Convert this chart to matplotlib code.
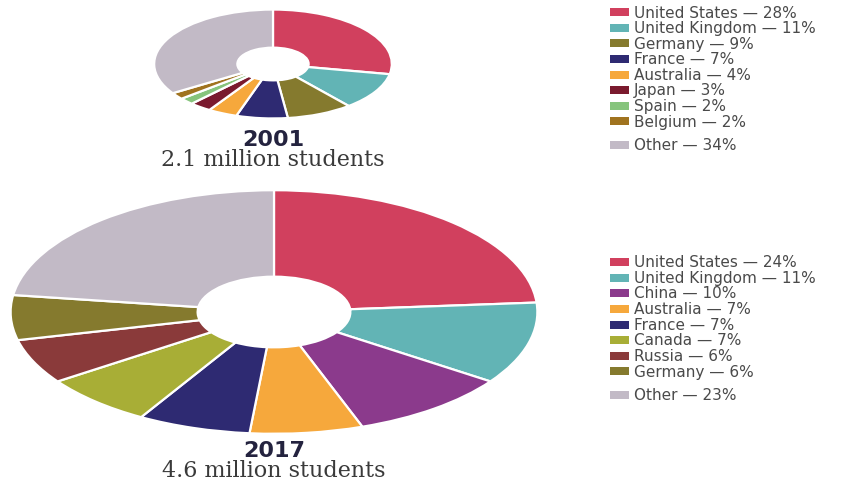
import matplotlib.pyplot as plt
from matplotlib.patches import Rectangle

# --- data -------------------------------------------------------------
labels_2001 = ["United States", "United Kingdom", "Germany", "France",
               "Australia", "Japan", "Spain", "Belgium", "Other"]
share_2001 = [28, 11, 9, 7, 4, 3, 2, 2, 34]
colors_2001 = ["#d1405e", "#62b4b5", "#857a2e", "#2e2a72", "#f6a83c",
               "#7a1a2e", "#86c47c", "#a0731f", "#c2bac6"]

labels_2017 = ["United States", "United Kingdom", "China", "Australia",
               "France", "Canada", "Russia", "Germany", "Other"]
share_2017 = [24, 11, 10, 7, 7, 7, 6, 6, 23]
colors_2017 = ["#d1405e", "#62b4b5", "#8b3a8c", "#f6a83c", "#2e2a72",
               "#a8ae36", "#8a3a3a", "#857a2e", "#c2bac6"]

W, H = 841, 481
fig = plt.figure(figsize=(W / 100, H / 100), dpi=100)
fig.patch.set_facecolor("white")


def px_axes(x0, y0, x1, y1):
    # axes placed by pixel box (top-left origin)
    return fig.add_axes([x0 / W, 1 - y1 / H, (x1 - x0) / W, (y1 - y0) / H])


def donut(ax, vals, cols, width):
    ax.pie(vals, colors=cols, startangle=90, counterclock=False,
           wedgeprops=dict(width=width, edgecolor="white", linewidth=1.6))
    ax.set_aspect("auto")
    ax.set_xlim(-1.01, 1.01)
    ax.set_ylim(-1.01, 1.01)
    ax.axis("off")


ax1 = px_axes(153, 10, 393, 120)
donut(ax1, share_2001, colors_2001, 0.70)

ax2 = px_axes(8, 190, 540, 436)
donut(ax2, share_2017, colors_2017, 0.71)

# --- titles under each donut -----------------------------------------
title_kw = dict(ha="center", va="center", fontsize=16, fontweight="bold",
                color="#24233f", family="DejaVu Sans")
sub_kw = dict(ha="center", va="center", fontsize=16, color="#3a3a3a",
              family="DejaVu Serif")
fig.text(273 / W, 1 - 140 / H, "2001", **title_kw)
fig.text(273 / W, 1 - 160 / H, "2.1 million students", **sub_kw)
fig.text(274 / W, 1 - 451 / H, "2017", **title_kw)
fig.text(274 / W, 1 - 471 / H, "4.6 million students", **sub_kw)


# --- legends ------------------------------------------------------------
def legend(rows_y, labels, shares, cols):
    for y, lab, s, c in zip(rows_y, labels, shares, cols):
        fig.patches.append(Rectangle((610 / W, 1 - (y + 4) / H), 19 / W, 8 / H,
                                     transform=fig.transFigure,
                                     facecolor=c, edgecolor="none"))
        fig.text(634 / W, 1 - y / H, f"{lab} \u2014 {s}%", ha="left",
                 va="center", fontsize=11, color="#4a4a4a",
                 family="DejaVu Sans")


rows_top = [13, 29, 44, 60, 76, 91, 107, 122, 146]
rows_bot = [y + 250 for y in rows_top]
legend(rows_top, labels_2001, share_2001, colors_2001)
legend(rows_bot, labels_2017, share_2017, colors_2017)

fig.savefig("out.png", dpi=100)
